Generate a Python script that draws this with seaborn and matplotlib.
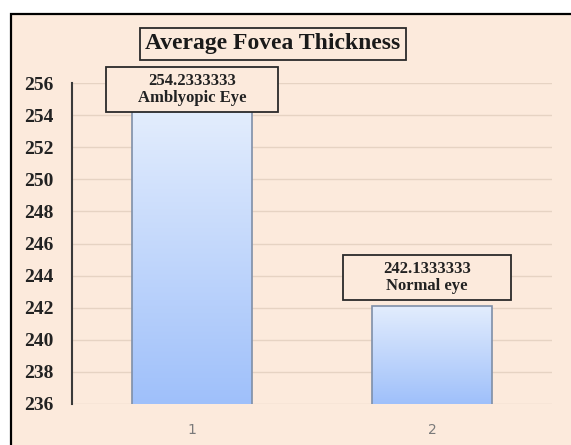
import numpy as np
import pandas as pd
import seaborn as sns
import matplotlib.pyplot as plt
from matplotlib.patches import Rectangle
from matplotlib.colors import LinearSegmentedColormap

# Chart data
categories = ["1", "2"]
thickness = [254.2333333, 242.1333333]
eye_labels = ["Amblyopic Eye", "Normal eye"]
y_ticks = [236, 238, 240, 242, 244, 246, 248, 250, 252, 254, 256]

PEACH = "#FCEADC"
SERIF = ["Liberation Serif", "DejaVu Serif"]

sns.set_theme(style="white")
plt.rcParams["font.family"] = SERIF

df = pd.DataFrame({"eye": categories, "thickness": thickness})

fig = plt.figure(figsize=(5.71, 4.45), dpi=100, facecolor="white")

# Chart-area frame (peach panel with black border), drawn beneath the axes
frame = Rectangle((10.5 / 571, -0.02), 1.05, (445 - 13.5) / 445 + 0.02,
                  transform=fig.transFigure, facecolor=PEACH,
                  edgecolor="black", linewidth=1.6, zorder=-10)
fig.patches.append(frame)

ax = fig.add_axes([72 / 571, (445 - 404) / 445, (552 - 72) / 571, (404 - 83) / 445])
ax.set_facecolor("none")

sns.barplot(data=df, x="eye", y="thickness", ax=ax, width=0.5,
            color="#C0D4FB", edgecolor="#7F8FA8", linewidth=1.2, zorder=3)

ymin, ymax = y_ticks[0], y_ticks[-1]

# Vertical gradient fill for each bar
grad_cmap = LinearSegmentedColormap.from_list("bar_grad", ["#9FC0FA", "#E3EDFD"])
grad = np.linspace(0, 1, 256).reshape(-1, 1)
for patch, val in zip(ax.patches, thickness):
    x0, w = patch.get_x(), patch.get_width()
    patch.set_facecolor("none")
    img = ax.imshow(grad, cmap=grad_cmap, origin="lower", aspect="auto",
                    extent=[x0, x0 + w, ymin, val], zorder=2)
    img.set_clip_path(patch)
ax.set_xlim(-0.5, 1.5)
ax.set_ylim(ymin, ymax)

# Grid and spines
ax.set_yticks(y_ticks)
ax.yaxis.grid(True, color="#E6D3C3", linewidth=1.0, zorder=0)
ax.xaxis.grid(False)
ax.set_axisbelow(True)
for side in ["top", "right", "bottom"]:
    ax.spines[side].set_visible(False)
ax.spines["left"].set_color("#3a3a3a")
ax.spines["left"].set_linewidth(1.5)

ax.tick_params(axis="y", length=0, pad=13, labelsize=14, labelcolor="#222222")
for lab in ax.get_yticklabels():
    lab.set_fontweight("bold")
    lab.set_family(SERIF)
ax.tick_params(axis="x", length=0, pad=14, labelsize=10, labelcolor="#7a7a7a")
for lab in ax.get_xticklabels():
    lab.set_family(["DejaVu Sans"])
ax.set_xlabel("")
ax.set_ylabel("")

# Value labels in boxes above the bars
units_per_px = (ymax - ymin) / (404 - 83)
box_offsets = [-0.05, 0.37]
box_shift = [0.0, -0.02]
box_w = [0.72, 0.70]
box_h = 45 * units_per_px
for i, (val, name) in enumerate(zip(thickness, eye_labels)):
    bottom = val + box_offsets[i]
    cx = i + box_shift[i]
    ax.add_patch(Rectangle((cx - box_w[i] / 2, bottom), box_w[i], box_h,
                           facecolor=PEACH, edgecolor="#2a2a2a", linewidth=1.3,
                           clip_on=False, zorder=4))
    ax.text(cx, bottom + box_h / 2, f"{val:.7f}\n{name}", ha="center", va="center",
            fontsize=12, fontweight="bold", color="#222222", family=SERIF,
            linespacing=1.1, clip_on=False, zorder=5)

# Title in a box
fig.text(273 / 571, (445 - 44) / 445, "Average Fovea Thickness", ha="center",
         va="center", fontsize=17, fontweight="bold", color="#1a1a1a", family=SERIF,
         bbox=dict(boxstyle="square,pad=0.22", facecolor=PEACH,
                   edgecolor="#2a2a2a", linewidth=1.3))

fig.savefig("out.png", dpi=100, facecolor="white")
